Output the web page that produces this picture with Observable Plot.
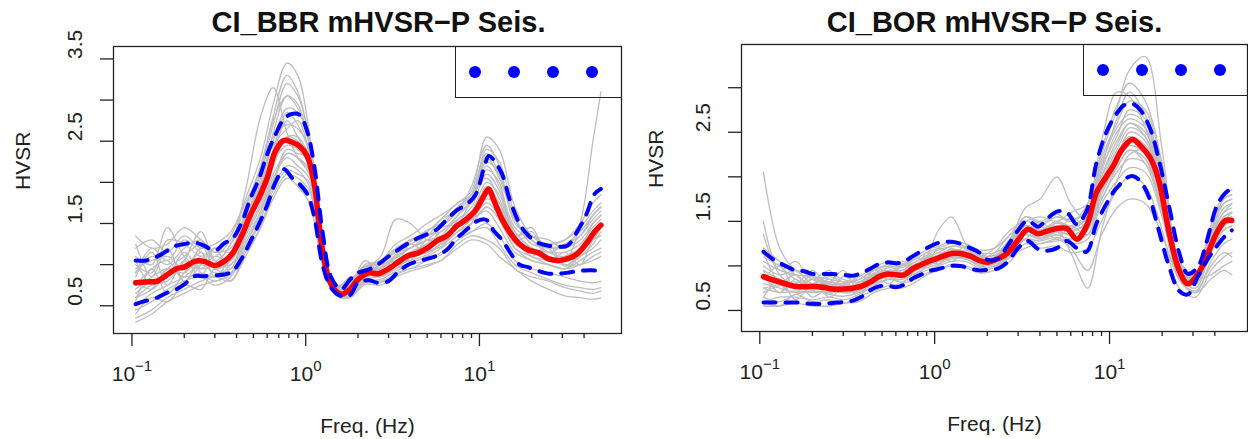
<!DOCTYPE html>
<html><head><meta charset="utf-8">
<script src="https://cdn.jsdelivr.net/npm/d3@7"></script>
<script src="https://cdn.jsdelivr.net/npm/@observablehq/plot@0.6"></script>
<style>
body{margin:0;background:#fff;}
#wrap{position:relative;width:1248px;height:439px;overflow:hidden;background:#fff;font-family:"Liberation Sans",Arial,Helvetica,sans-serif;}
.panel{position:absolute;top:0;width:624px;height:439px;}
.legend{position:absolute;box-sizing:border-box;border-left:1.3px solid #222;border-bottom:1.3px solid #222;}
.legend span{position:absolute;width:12px;height:12px;margin-left:-6px;margin-top:-6px;border-radius:50%;background:#0000ff;}
</style></head>
<body><div id="wrap"></div>
<script>
// ---- frequency grids (Hz) ----
const freqHz = [0.105,0.12,0.14,0.16,0.18,0.2,0.23,0.26,0.3,0.34,0.38,0.43,0.48,0.54,0.6,0.67,0.75,0.83,0.92,1.02,1.12,1.25,1.4,1.6,1.8,2.0,2.3,2.6,3.0,3.4,3.9,4.4,5.0,5.7,6.5,7.4,8.4,9.5,10.7,11.3,12,13.5,15,17,19,22,25,28,32,36,41,46,50];
const grayFreqHz = [0.105,0.13,0.16,0.2,0.25,0.3,0.37,0.45,0.55,0.65,0.78,0.9,1.05,1.25,1.5,1.8,2.2,2.7,3.3,4,5,6,7.5,9,11,13,16,20,25,31,38,45,50];

// ---- tick values / labels ----
const majorTicks = [0.1, 1, 10];
const minorTicks = [0.2,0.3,0.4,0.5,0.6,0.7,0.8,0.9,2,3,4,5,6,7,8,9,20,30,40];
const bbrYTicks = [0.5,1,1.5,2,2.5,3,3.5];
const bbrYLabels = [0.5,1.5,2.5,3.5];
const borYTicks = [0.5,1,1.5,2,2.5,3];
const borYLabels = [0.5,1.5,2.5];
const titles = ["CI_BBR mHVSR\u2212P Seis.", "CI_BOR mHVSR\u2212P Seis."];
const xTitle = "Freq. (Hz)";
const yTitle = "HVSR";
const legendDots = [1, 2, 3, 4];

// ---- CI_BBR ----
const bbrMedian = [0.78,0.79,0.80,0.88,0.95,0.97,1.04,1.04,0.99,1.04,1.14,1.36,1.60,1.82,2.05,2.38,2.51,2.49,2.44,2.32,1.98,1.17,0.76,0.64,0.70,0.82,0.90,0.89,0.95,1.03,1.11,1.14,1.20,1.29,1.35,1.47,1.55,1.66,1.85,1.92,1.80,1.55,1.39,1.25,1.18,1.14,1.07,1.05,1.07,1.12,1.25,1.40,1.48];
const bbrUpper  = [1.05,1.05,1.10,1.17,1.23,1.25,1.27,1.23,1.17,1.26,1.32,1.52,1.80,2.05,2.34,2.58,2.77,2.83,2.82,2.62,2.20,1.40,0.85,0.70,0.82,0.90,0.94,1.00,1.10,1.18,1.26,1.32,1.37,1.43,1.55,1.66,1.73,1.85,2.20,2.32,2.28,2.10,1.78,1.50,1.36,1.26,1.23,1.22,1.23,1.38,1.60,1.86,1.92];
const bbrLower  = [0.52,0.56,0.60,0.66,0.70,0.76,0.86,0.86,0.87,0.88,0.92,1.08,1.28,1.50,1.72,2.00,2.16,2.06,1.98,1.86,1.58,1.00,0.72,0.62,0.63,0.78,0.81,0.78,0.80,0.91,1.00,1.04,1.07,1.11,1.18,1.32,1.42,1.52,1.55,1.52,1.42,1.30,1.15,1.00,0.97,0.92,0.89,0.89,0.90,0.92,0.93,0.93,0.93];
const bbrGray = [
  [1.35,1.20,1.25,1.45,1.30,1.15,1.35,1.80,2.30,2.95,3.45,3.30,2.60,1.30,0.75,0.80,1.00,1.05,1.25,1.35,1.50,1.60,1.75,1.90,2.55,2.40,1.70,1.35,1.25,1.30,1.50,1.75,1.85],
  [0.35,0.45,0.60,0.70,0.80,0.85,0.80,1.10,1.45,1.80,2.05,1.95,1.75,1.00,0.65,0.62,0.80,0.78,0.90,0.95,1.05,1.12,1.30,1.40,1.45,1.25,1.00,0.90,0.82,0.75,0.72,0.70,0.72],
  [0.90,1.10,1.00,1.20,1.30,1.05,1.25,1.90,2.80,3.15,2.60,2.30,2.10,1.20,0.70,0.75,0.95,1.00,1.05,1.15,1.25,1.40,1.55,1.70,2.10,1.90,1.40,1.20,1.10,1.05,1.15,1.35,1.45],
  [0.70,0.85,0.95,0.90,1.10,0.95,1.05,1.45,1.85,2.20,2.55,2.50,2.25,1.15,0.68,0.68,0.85,0.92,1.00,1.10,1.15,1.25,1.45,1.55,1.75,1.60,1.25,1.15,1.10,1.05,1.50,2.50,3.10],
  [1.10,1.00,1.45,1.10,0.95,1.00,1.15,1.60,1.95,2.40,2.85,2.70,2.35,1.25,0.72,0.70,0.90,0.95,1.10,1.20,1.30,1.35,1.60,1.75,2.20,1.95,1.45,1.30,1.15,1.10,1.20,1.50,1.60],
  [0.60,0.75,0.80,1.05,1.40,1.05,1.00,1.35,1.70,2.10,2.35,2.30,2.15,1.10,0.66,0.72,0.95,1.10,1.55,1.50,1.30,1.25,1.40,1.50,1.70,1.55,1.20,1.05,1.00,0.95,1.10,1.20,1.30],
  [0.50,0.65,0.75,0.85,1.00,0.90,0.95,1.30,1.65,2.05,2.30,2.20,2.05,1.10,0.68,0.65,0.85,0.88,0.98,1.05,1.12,1.25,1.40,1.55,1.65,1.45,1.15,1.05,1.00,0.95,1.05,1.15,1.20],
  [0.95,1.05,1.10,0.95,1.20,1.15,1.20,1.55,2.00,2.60,3.05,2.95,2.45,1.20,0.72,0.78,0.92,0.95,1.08,1.20,1.30,1.45,1.65,1.95,2.45,2.20,1.50,1.35,1.30,1.20,1.35,1.55,1.65],
  [0.80,0.70,0.90,1.00,0.95,1.10,1.05,1.45,1.80,2.25,2.45,2.40,2.20,1.15,0.70,0.72,0.88,0.85,0.95,1.08,1.18,1.30,1.50,1.60,1.80,1.70,1.30,1.35,1.20,1.00,1.10,1.25,1.40],
  [0.45,0.55,0.70,0.80,0.85,0.75,0.85,1.20,1.55,1.95,2.20,2.15,1.95,1.05,0.62,0.60,0.78,0.80,0.88,0.95,1.00,1.05,1.25,1.35,1.30,1.20,0.95,0.85,0.80,0.72,0.68,0.65,0.68],
  [1.20,1.30,1.15,1.35,1.20,1.25,1.40,1.75,2.15,2.70,3.20,3.05,2.55,1.30,0.75,0.82,0.98,1.05,1.20,1.30,1.40,1.55,1.75,1.85,2.40,2.25,1.60,1.25,1.25,1.30,1.45,1.65,1.75],
  [0.65,0.80,0.85,1.15,0.90,0.80,0.90,1.25,1.60,2.00,2.40,2.35,2.30,1.15,0.66,0.66,0.82,0.86,0.95,1.02,1.10,1.20,1.35,1.50,1.95,1.75,1.35,1.10,1.05,1.00,1.00,1.05,1.10],
  [0.30,0.40,0.55,0.65,0.75,0.80,0.88,1.20,1.50,1.85,2.10,2.05,1.90,1.00,0.64,0.60,0.76,0.75,0.85,0.92,0.98,1.05,1.20,1.30,1.25,1.10,0.95,0.80,0.70,0.62,0.60,0.58,0.60],
  [1.00,0.90,1.30,1.25,1.10,1.20,1.15,1.65,2.10,2.55,2.70,2.65,2.40,1.25,0.70,0.76,0.92,0.97,1.12,1.25,1.35,1.45,1.70,1.85,2.05,1.80,1.40,1.20,1.15,1.15,1.25,1.45,1.55],
  [0.85,1.15,0.75,1.05,0.85,1.20,0.95,1.50,2.05,2.45,2.65,2.75,2.35,1.20,0.70,0.85,0.82,1.02,1.00,1.25,1.15,1.45,1.50,1.80,2.15,2.00,1.35,1.45,1.05,1.15,1.00,1.30,1.35],
  [0.55,0.95,0.65,0.90,1.15,0.85,1.10,1.40,1.90,2.35,2.75,2.55,2.25,1.15,0.66,0.74,0.95,0.88,1.10,1.05,1.30,1.20,1.55,1.65,2.00,1.85,1.35,1.10,1.25,0.98,1.15,1.30,1.45],
  [1.25,0.85,1.20,0.80,1.05,1.00,1.25,1.55,2.15,2.80,3.30,3.10,2.50,1.25,0.72,0.80,0.95,1.05,1.15,1.30,1.35,1.55,1.65,1.85,2.35,2.10,1.55,1.30,1.15,1.25,1.35,1.60,1.70],
  [0.40,0.60,0.55,0.75,0.70,0.95,0.80,1.15,1.45,1.90,2.15,2.10,2.00,1.05,0.64,0.62,0.80,0.82,0.92,1.00,1.05,1.15,1.30,1.40,1.50,1.35,1.05,0.95,0.90,0.85,0.80,0.78,0.80],
  [0.75,0.95,1.05,0.80,1.00,1.20,0.90,1.35,1.75,2.20,2.55,2.55,2.30,1.20,0.70,0.76,1.05,0.90,1.05,1.15,1.25,1.30,1.50,1.65,1.90,1.75,1.35,1.40,1.05,1.10,1.20,1.35,1.45],
  [1.05,0.75,0.95,1.10,1.25,0.95,1.10,1.50,1.95,2.50,2.90,2.85,2.45,1.25,0.74,0.78,0.90,1.00,1.15,1.20,1.35,1.40,1.60,1.80,2.30,2.05,1.55,1.25,1.20,1.20,1.30,1.50,1.60],
  [0.60,0.70,0.95,0.85,0.90,0.85,1.00,1.25,1.65,2.00,2.35,2.30,2.10,1.10,0.66,0.68,0.86,0.90,0.98,1.08,1.15,1.22,1.40,1.50,1.70,1.55,1.20,1.10,1.00,0.95,1.00,1.10,1.15],
  [0.90,1.20,1.05,1.30,1.15,1.10,1.30,1.70,2.20,2.75,3.05,2.90,2.50,1.25,0.72,0.80,0.97,1.02,1.18,1.28,1.42,1.50,1.70,1.85,2.25,2.10,1.55,1.30,1.20,1.25,1.40,1.60,1.70]
];

// ---- CI_BOR ----
const borMedian = [0.88,0.84,0.80,0.77,0.765,0.77,0.76,0.74,0.74,0.75,0.77,0.82,0.88,0.91,0.90,0.90,0.97,1.01,1.05,1.08,1.11,1.14,1.14,1.11,1.06,1.04,1.08,1.14,1.29,1.41,1.36,1.39,1.42,1.42,1.30,1.45,1.82,1.99,2.15,2.25,2.33,2.42,2.35,2.22,1.98,1.36,0.95,0.80,0.91,1.11,1.37,1.51,1.51];
const borUpper  = [1.16,1.07,1.00,0.95,0.94,0.91,0.91,0.91,0.90,0.89,0.92,0.97,1.02,1.04,1.03,1.05,1.11,1.16,1.21,1.25,1.27,1.27,1.25,1.20,1.15,1.07,1.08,1.22,1.40,1.51,1.44,1.53,1.61,1.60,1.47,1.62,2.15,2.48,2.68,2.74,2.80,2.82,2.75,2.55,2.22,1.65,1.15,0.91,0.99,1.28,1.67,1.82,1.87];
const borLower  = [0.59,0.59,0.59,0.59,0.58,0.575,0.575,0.585,0.595,0.61,0.65,0.73,0.77,0.78,0.76,0.79,0.86,0.90,0.94,0.96,0.98,1.00,1.00,0.97,0.95,0.955,0.97,1.04,1.20,1.28,1.19,1.17,1.20,1.28,1.20,1.16,1.47,1.68,1.85,1.90,1.96,2.01,1.95,1.75,1.42,0.98,0.72,0.68,0.88,1.06,1.22,1.34,1.40];
const borGray = [
  [2.05,1.20,0.95,0.85,0.80,0.78,0.80,0.90,0.95,0.95,1.02,1.08,1.12,1.18,1.16,1.08,1.10,1.22,1.45,1.40,1.48,1.45,1.55,2.00,2.35,2.60,2.45,1.85,1.00,0.85,1.30,1.60,1.65],
  [1.05,0.95,0.90,0.88,0.85,0.82,0.85,0.95,1.00,0.98,1.05,1.12,1.18,1.22,1.20,1.12,1.12,1.25,1.50,1.45,1.55,1.50,1.65,2.25,2.75,3.20,3.35,2.30,1.05,0.80,1.35,1.75,1.80],
  [0.55,0.55,0.58,0.55,0.55,0.58,0.60,0.70,0.75,0.75,0.82,0.90,0.95,1.00,0.98,0.92,0.95,1.05,1.25,1.20,1.22,1.15,1.20,1.50,1.85,2.00,1.90,1.40,0.75,0.65,0.95,1.10,1.15],
  [1.35,0.90,0.80,0.95,0.75,0.70,0.72,0.85,0.95,0.92,0.98,1.05,1.10,1.15,1.15,1.05,1.00,1.15,1.35,1.30,1.35,1.30,1.40,1.80,2.15,2.35,2.25,1.70,0.95,0.85,1.20,1.45,1.50],
  [0.80,0.75,0.70,0.72,0.70,0.72,0.75,0.82,0.88,0.88,0.95,1.00,1.05,1.10,1.12,1.05,1.10,1.30,1.65,1.75,2.00,1.70,1.50,1.75,2.10,2.30,2.15,1.60,0.90,0.80,1.15,1.40,1.45],
  [0.70,0.78,0.75,0.80,0.78,0.75,0.80,0.88,0.92,0.92,1.00,1.05,1.12,1.15,1.15,1.08,1.08,1.15,1.30,1.25,1.30,1.20,0.95,1.35,1.65,1.75,1.70,1.35,0.85,0.70,0.85,0.95,0.90],
  [1.10,1.00,0.85,0.80,0.90,0.85,0.82,0.92,0.98,0.95,1.05,1.10,1.15,1.22,1.20,1.10,1.12,1.25,1.45,1.40,1.45,1.42,1.55,2.10,2.45,2.75,2.65,2.00,1.00,0.90,1.30,1.55,1.60],
  [0.60,0.65,0.65,0.62,0.65,0.62,0.68,0.78,0.85,0.85,0.92,0.98,1.02,1.08,1.08,1.00,1.02,1.12,1.35,1.30,1.38,1.35,1.45,1.85,2.10,2.30,2.20,1.65,0.90,0.75,1.15,1.40,1.45],
  [0.95,0.85,0.78,0.85,0.80,0.75,0.78,0.88,0.92,0.90,0.98,1.10,1.40,1.55,1.25,1.05,1.05,1.20,1.40,1.35,1.40,1.35,1.45,1.90,2.20,2.50,2.40,1.80,0.95,0.85,1.25,1.50,1.55],
  [0.75,0.70,0.72,0.70,0.72,0.70,0.75,0.90,0.95,0.88,0.98,1.02,1.08,1.12,1.10,1.05,1.05,1.15,1.40,1.38,1.45,1.40,1.50,1.95,2.25,2.45,2.35,1.75,0.92,0.82,1.25,1.50,1.55],
  [1.00,0.90,0.95,0.88,0.82,0.80,0.85,0.95,1.02,1.00,1.08,1.15,1.20,1.25,1.22,1.15,1.15,1.28,1.55,1.50,1.58,1.50,1.70,2.40,2.95,2.90,2.55,1.90,1.00,0.90,1.40,1.70,1.75],
  [0.65,0.60,0.68,0.72,0.68,0.66,0.70,0.80,0.85,0.82,0.90,0.95,1.00,1.05,1.05,0.98,1.00,1.10,1.30,1.28,1.32,1.25,1.30,1.70,1.95,2.10,2.05,1.55,0.85,0.72,1.00,1.15,1.10],
  [0.85,0.80,0.82,0.78,0.78,0.76,0.78,0.85,0.90,0.90,0.98,1.05,1.10,1.15,1.12,1.05,1.08,1.20,1.40,1.35,1.40,1.15,0.75,1.40,1.95,2.25,2.30,1.75,0.95,0.85,0.90,1.00,1.05],
  [1.20,1.05,0.90,0.78,0.82,0.80,0.88,0.98,1.05,1.02,1.10,1.18,1.22,1.28,1.25,1.18,1.20,1.35,1.55,1.48,1.55,1.52,1.60,2.20,2.60,2.85,2.75,2.10,1.05,0.92,1.45,1.80,1.85],
  [0.95,0.70,0.85,0.65,0.80,0.95,0.72,0.92,0.85,1.00,0.95,1.15,1.05,1.20,1.10,1.15,1.05,1.30,1.35,1.50,1.35,1.55,1.45,2.05,2.50,2.65,2.55,1.95,0.98,0.88,1.35,1.60,1.70],
  [0.65,0.85,0.62,0.78,0.68,0.80,0.65,0.88,0.80,0.95,0.90,1.00,1.10,1.05,1.15,1.00,1.08,1.25,1.30,1.45,1.30,1.45,1.35,1.95,2.30,2.55,2.45,1.85,0.95,0.80,1.25,1.50,1.60],
  [1.50,0.95,1.05,0.85,0.95,0.75,0.90,0.80,1.00,0.92,1.10,1.02,1.20,1.12,1.22,1.10,1.20,1.40,1.50,1.55,1.50,1.60,1.70,2.30,2.80,3.05,2.85,2.15,1.05,0.90,1.45,1.75,1.80],
  [0.60,0.55,0.68,0.60,0.62,0.58,0.66,0.72,0.78,0.80,0.85,0.92,0.95,1.02,1.00,0.95,0.98,1.10,1.20,1.25,1.28,1.30,1.35,1.75,2.05,2.20,2.15,1.60,0.85,0.70,1.05,1.25,1.30],
  [0.85,1.00,0.75,0.90,0.72,0.88,0.80,1.00,0.90,1.05,0.98,1.08,1.15,1.10,1.18,1.08,1.15,1.35,1.45,1.40,1.50,1.45,1.60,2.15,2.55,2.70,2.60,1.95,1.00,0.85,1.35,1.65,1.70],
  [0.75,0.80,0.90,0.75,0.85,0.70,0.82,0.85,0.95,0.90,1.02,1.05,1.12,1.18,1.12,1.05,1.10,1.30,1.40,1.35,1.42,1.38,1.50,2.00,2.40,2.60,2.50,1.90,0.95,0.85,1.30,1.55,1.60],
  [1.15,0.80,0.70,0.85,0.65,0.75,0.70,0.82,0.88,0.82,0.95,1.00,1.05,1.10,1.08,1.02,1.05,1.20,1.35,1.32,1.38,1.35,1.42,1.85,2.20,2.40,2.35,1.75,0.92,0.80,1.20,1.45,1.50],
  [0.90,0.70,0.95,0.80,0.88,0.82,0.75,0.95,0.88,1.02,0.95,1.10,1.02,1.15,1.08,1.12,1.05,1.25,1.45,1.38,1.48,1.42,1.55,2.10,2.65,2.95,2.70,2.05,1.02,0.90,1.40,1.70,1.75]
];

const INK = "#222";
const FONT = "'Liberation Sans', Arial, Helvetica, sans-serif";

function makePanel(o) {
  const grayRows = [];
  o.gray.forEach((vals, k) => vals.forEach((v, i) => grayRows.push({f: grayFreqHz[i], v, id: k})));
  const band = vals => vals.map((v, i) => ({f: freqHz[i], v}));
  const lineOpts = {x: "f", y: "v", curve: "catmull-rom"};
  const plot = Plot.plot({
    width: 624, height: 439,
    marginLeft: o.ml, marginRight: o.mr, marginTop: o.mt, marginBottom: o.mb,
    x: {type: "log", domain: o.xDomain, label: null},
    y: {domain: o.yDomain, label: null},
    style: {fontFamily: FONT, fontSize: "21px", color: INK, background: "transparent", overflow: "visible"},
    marks: [
      Plot.line(grayRows, {...lineOpts, z: "id", stroke: "#bebebe", strokeWidth: 1.3}),
      Plot.line(band(o.median), {...lineOpts, stroke: "#ff0000", strokeWidth: 5.5}),
      Plot.line(band(o.upper), {...lineOpts, stroke: "#0000ff", strokeWidth: 4, strokeDasharray: "12,10"}),
      Plot.line(band(o.lower), {...lineOpts, stroke: "#0000ff", strokeWidth: 4, strokeDasharray: "12,10"}),
      Plot.frame({stroke: INK, strokeWidth: 1.3}),
      Plot.axisX({ticks: majorTicks, tickSize: 13, tickFormat: () => "", label: null, strokeWidth: 1.3}),
      Plot.axisX({ticks: minorTicks, tickSize: 5, tickFormat: () => "", label: null, strokeWidth: 1.3}),
      Plot.axisY({ticks: o.yTicks, tickSize: 13, tickFormat: () => "", label: null, strokeWidth: 1.3}),
      Plot.text(o.yLabels, {y: d => d, frameAnchor: "left", dx: -38, rotate: -90, lineAnchor: "middle", text: d => d.toFixed(1), fontSize: 21, fill: INK}),
      Plot.text(majorTicks, {x: d => d, frameAnchor: "bottom", dy: 47, lineAnchor: "bottom", text: d => "10^" + Math.round(Math.log10(d)), fontSize: 21, fill: INK}),
      Plot.text([xTitle], {frameAnchor: "bottom", dy: 99, lineAnchor: "bottom", text: d => d, fontSize: 21, fill: INK}),
      Plot.text([yTitle], {frameAnchor: "left", dx: o.hvsrDx, rotate: -90, lineAnchor: "middle", text: d => d, fontSize: 21, fill: INK}),
      Plot.text([o.title], {frameAnchor: "top", dx: o.titleDx, dy: o.titleDy, lineAnchor: "bottom", text: d => d, fontSize: 29, fontWeight: "bold", fill: "#111"})
    ]
  });
  // superscript exponents on the x tick labels
  plot.querySelectorAll("text").forEach(t => {
    if (t.children.length || !t.textContent.includes("^")) return;
    const [base, exp] = t.textContent.split("^");
    t.textContent = base;
    const ts = document.createElementNS("http://www.w3.org/2000/svg", "tspan");
    ts.setAttribute("dy", "-10");
    ts.setAttribute("font-size", "15");
    ts.textContent = exp.replace("-", "\u2212");
    t.appendChild(ts);
  });
  const div = document.createElement("div");
  div.className = "panel";
  div.style.left = o.left + "px";
  div.appendChild(plot);
  // legend (transparent box in the top-right corner)
  const leg = document.createElement("div");
  leg.className = "legend";
  Object.assign(leg.style, {left: o.legLeft + "px", top: o.mt + "px", width: (624 - o.mr - o.legLeft) + "px", height: o.legH + "px"});
  legendDots.forEach((d, i) => {
    const s = document.createElement("span");
    s.style.left = (19 + 39 * i) + "px";
    s.style.top = (o.legH / 2) + "px";
    leg.appendChild(s);
  });
  div.appendChild(leg);
  document.getElementById("wrap").appendChild(div);
}

makePanel({
  left: 0, ml: 113, mr: 3, mt: 46, mb: 106,
  xDomain: [0.0783, 65.7], yDomain: [0.163, 3.651],
  yTicks: bbrYTicks, yLabels: bbrYLabels,
  median: bbrMedian, upper: bbrUpper, lower: bbrLower, gray: bbrGray,
  title: titles[0], titleDx: 11, titleDy: -14.3, hvsrDx: -90,
  legLeft: 455, legH: 52
});
makePanel({
  left: 624, ml: 117, mr: 1, mt: 44, mb: 108,
  xDomain: [0.0786, 61.5], yDomain: [0.264, 3.485],
  yTicks: borYTicks, yLabels: borYLabels,
  median: borMedian, upper: borUpper, lower: borLower, gray: borGray,
  title: titles[1], titleDx: 0, titleDy: -12.3, hvsrDx: -85,
  legLeft: 459, legH: 52
});
</script>
</body></html>
